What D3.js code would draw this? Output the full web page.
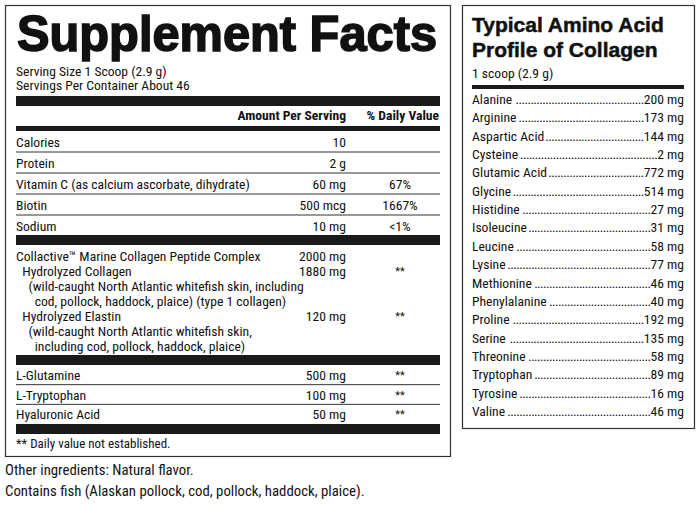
<!DOCTYPE html>
<html>
<head>
<meta charset="utf-8">
<script src="https://cdn.jsdelivr.net/npm/d3@7"></script>
<style>
  body { margin: 0; background: #fff; }
  text { font-family: "Liberation Sans Narrow", "Roboto Condensed", "Liberation Sans", Arial, sans-serif; fill: #111; }
</style>
</head>
<body>
<svg id="label" width="700" height="505"></svg>
<script>
// nutrient rows
const nutrients = ["Calories", "Protein", "Vitamin C (as calcium ascorbate, dihydrate)", "Biotin", "Sodium"];
const nutrientAmounts = ["10", "2 g", "60 mg", "500 mcg", "10 mg"];
const nutrientDV = ["", "", "67%", "1667%", "<1%"];

// collagen complex block
const complexLines = [
  "Collactive\u2122 Marine Collagen Peptide Complex",
  "  Hydrolyzed Collagen",
  "    (wild-caught North Atlantic whitefish skin, including",
  "      cod, pollock, haddock, plaice) (type 1 collagen)",
  "  Hydrolyzed Elastin",
  "    (wild-caught North Atlantic whitefish skin,",
  "      including cod, pollock, haddock, plaice)"
];
const complexAmounts = ["2000 mg", "1880 mg", "", "", "120 mg", "", ""];
const complexDV = ["", "**", "", "", "**", "", ""];

const extras = ["L-Glutamine", "L-Tryptophan", "Hyaluronic Acid"];
const extraAmounts = ["500 mg", "100 mg", "50 mg"];
const extraDV = ["**", "**", "**"];

// amino acid profile
const aminoAcids = ["Alanine", "Arginine", "Aspartic Acid", "Cysteine", "Glutamic Acid", "Glycine",
  "Histidine", "Isoleucine", "Leucine", "Lysine", "Methionine", "Phenylalanine", "Proline",
  "Serine", "Threonine", "Tryptophan", "Tyrosine", "Valine"];
const aminoMg = [200, 173, 144, 2, 772, 514, 27, 31, 58, 77, 46, 40, 192, 135, 58, 89, 16, 46];

const FS = 13.6;
const svg = d3.select("#label");

// ---------- left panel ----------
const L = { x0: 5, x1: 450, in0: 16, in1: 440, amt: 346, dv: 400 };
svg.append("rect").attr("x", L.x0 + 0.5).attr("y", 5.5).attr("width", L.x1 - L.x0).attr("height", 451)
  .attr("fill", "none").attr("stroke", "#333").attr("stroke-width", 1.2);

svg.append("text").attr("x", 17).attr("y", 51)
  .style("font-family", "'Liberation Sans', Arial, sans-serif").attr("font-weight", "bold")
  .attr("font-size", 50).attr("textLength", 420).attr("lengthAdjust", "spacingAndGlyphs")
  .attr("stroke", "#111").attr("stroke-width", 1.6)
  .text("Supplement Facts");

svg.append("text").attr("x", L.in0).attr("y", 76).attr("font-size", FS).text("Serving Size 1 Scoop (2.9 g)");
svg.append("text").attr("x", L.in0).attr("y", 90).attr("font-size", FS).text("Servings Per Container About 46");

function bar(y, h, x0 = L.in0, x1 = L.in1) {
  svg.append("rect").attr("x", x0).attr("y", y).attr("width", x1 - x0).attr("height", h).attr("fill", "#1a1a1a");
}
function rule(y) {
  svg.append("line").attr("x1", L.in0).attr("x2", L.in1).attr("y1", y).attr("y2", y)
    .attr("stroke", "#333").attr("stroke-width", 1);
}
function row(y, name, amt, dv, fs = FS) {
  svg.append("text").attr("x", L.in0).attr("y", y).attr("font-size", fs)
    .attr("xml:space", "preserve").style("white-space", "pre").text(name);
  svg.append("text").attr("x", L.amt).attr("y", y).attr("font-size", fs).attr("text-anchor", "end").text(amt);
  svg.append("text").attr("x", L.dv).attr("y", y + (dv === "**" ? -1 : 0)).attr("font-size", dv === "**" ? 11 : fs)
    .attr("text-anchor", "middle").text(dv);
}

bar(96, 10);
svg.append("text").attr("x", L.amt).attr("y", 120).attr("font-size", FS).attr("font-weight", "bold")
  .attr("text-anchor", "end").text("Amount Per Serving");
svg.append("text").attr("x", L.in1 - 1).attr("y", 120).attr("font-size", FS).attr("font-weight", "bold")
  .attr("text-anchor", "end").text("% Daily Value");
bar(126, 5);

const yN = d3.scaleBand().domain(d3.range(nutrients.length)).range([131, 236]);
nutrients.forEach((n, i) => {
  row(yN(i) + yN.bandwidth() / 2 + 5, n, nutrientAmounts[i], nutrientDV[i]);
  if (i < nutrients.length - 1) rule(yN(i) + yN.bandwidth());
});
bar(235, 10);

const yC = d3.scalePoint().domain(d3.range(complexLines.length)).range([261, 351]);
complexLines.forEach((n, i) => row(yC(i), n, complexAmounts[i], complexDV[i]));
bar(355, 10);

const yE = d3.scaleBand().domain(d3.range(extras.length)).range([365, 424]);
extras.forEach((n, i) => {
  row(yE(i) + yE.bandwidth() / 2 + 5, n, extraAmounts[i], extraDV[i]);
  if (i < extras.length - 1) rule(yE(i) + yE.bandwidth());
});
bar(424, 10);
row(448, "** Daily value not established.", "", "", 13);

svg.append("text").attr("x", 5).attr("y", 475).attr("font-size", 14.8).text("Other ingredients: Natural flavor.");
svg.append("text").attr("x", 5).attr("y", 496).attr("font-size", 14.8).text("Contains fish (Alaskan pollock, cod, pollock, haddock, plaice).");

// ---------- right panel ----------
const R = { x0: 462, x1: 694, in0: 472, in1: 684 };
svg.append("rect").attr("x", R.x0 + 0.5).attr("y", 5.5).attr("width", R.x1 - R.x0).attr("height", 423)
  .attr("fill", "none").attr("stroke", "#333").attr("stroke-width", 1.2);
["Typical Amino Acid", "Profile of Collagen"].forEach((t, i) => {
  svg.append("text").attr("x", R.in0).attr("y", 32 + i * 25).attr("font-size", 21).attr("font-weight", "bold")
    .attr("stroke", "#111").attr("stroke-width", 0.5)
    .style("font-family", "'Liberation Sans Narrow', 'Liberation Sans', Arial, sans-serif").text(t);
});
svg.append("text").attr("x", R.in0).attr("y", 78).attr("font-size", FS).text("1 scoop (2.9 g)");
bar(85, 4, R.in0, R.in1);

const yA = d3.scalePoint().domain(aminoAcids).range([104, 416]);
const rows = svg.append("g").selectAll("g").data(aminoAcids).join("g")
  .attr("transform", d => `translate(0,${yA(d)})`);
rows.each(function (d, i) {
  const g = d3.select(this);
  const name = g.append("text").attr("x", R.in0).attr("font-size", FS).text(d);
  const val = g.append("text").attr("x", R.in1).attr("font-size", FS).attr("text-anchor", "end")
    .text(`${aminoMg[i]} mg`);
  const left = R.in0 + name.node().getComputedTextLength() + 1;
  const right = R.in1 - val.node().getComputedTextLength();
  const dots = g.append("text").attr("x", left).attr("font-size", FS).attr("letter-spacing", -0.6).text(".");
  const dw = dots.node().getComputedTextLength() || 3;
  const n = Math.max(0, Math.floor((right - left) / dw));
  dots.text(".".repeat(n)).attr("x", right - n * dw);
});
</script>
</body>
</html>
